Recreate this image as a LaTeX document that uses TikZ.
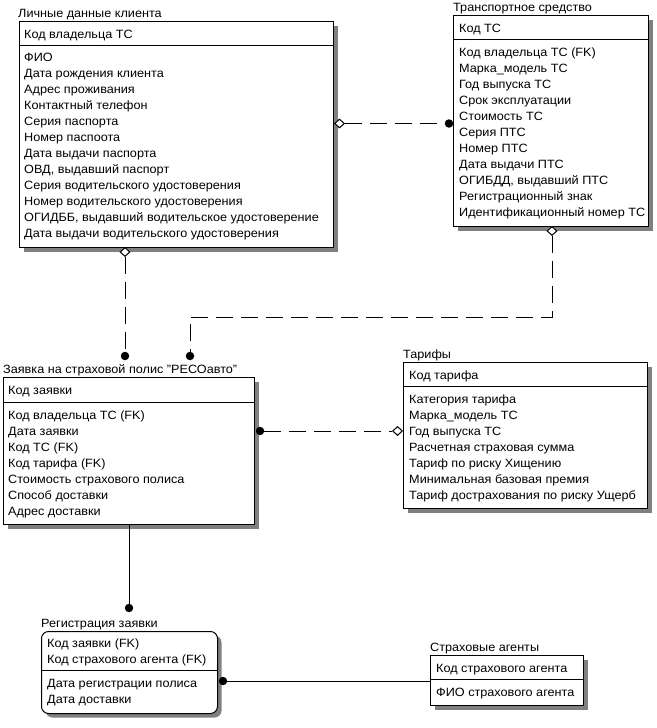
\documentclass[tikz,border=0pt]{standalone}
\usepackage{fontspec}
\setmainfont[FakeStretch=1.055]{Liberation Sans}
\usetikzlibrary{shapes.geometric,shadows}
\tikzset{
  ent/.style={draw, line width=1pt, fill=white, anchor=north west, inner sep=0pt,
    general shadow={fill=gray, shadow xshift=4pt, shadow yshift=-4pt}},
  txt/.style={anchor=base west, inner sep=0pt, font=\fontsize{12}{14}\selectfont},
  sep/.style={line width=1pt},
  rel/.style={line width=1pt},
  reld/.style={line width=1pt, dash pattern=on 17pt off 8pt},
  dot/.style={circle, fill=black, inner sep=0pt, minimum size=8.5pt},
  dia/.style={diamond, draw, line width=1pt, fill=white, inner sep=0pt, minimum width=10pt, minimum height=9pt}
}
\begin{document}
\begin{tikzpicture}[x=1pt,y=-1pt]
\useasboundingbox (0,0) rectangle (656,728);

% Entity 1
\node[ent, minimum width=314pt, minimum height=226pt] (e1) at (19,21) {};
\draw[sep] (e1.west |- 0,45) -- (e1.east |- 0,45);
\node[txt] (e1t) at (18,17.5) {Личные данные клиента};
\node[txt] (e1k) at (24,38) {Код владельца ТС};
\foreach \t [count=\i] in {ФИО, Дата рождения клиента, Адрес проживания, Контактный телефон,
  Серия паспорта, Номер паспоота, Дата выдачи паспорта, {ОВД, выдавший паспорт},
  Серия водительского удостоверения, Номер водительского удостоверения,
  {ОГИДББ, выдавший водительское удостоверение}, Дата выдачи водительского удостоверения}
  \node[txt] (e1a\i) at (24,{61.7+16*(\i-1)}) {\t};

% Entity 2
\node[ent, minimum width=195pt, minimum height=211pt] (e2) at (453,15) {};
\draw[sep] (e2.west |- 0,39) -- (e2.east |- 0,39);
\node[txt] (e2t) at (453,11.5) {Транспортное средство};
\node[txt] (e2k) at (459,32) {Код ТС};
\foreach \t [count=\i] in {Код владельца ТС (FK), Марка\_модель ТС, Год выпуска ТС,
  Срок эксплуатации, Стоимость ТС, Серия ПТС, Номер ПТС, Дата выдачи ПТС,
  {ОГИБДД, выдавший ПТС}, Регистрационный знак, Идентификационный номер ТС}
  \node[txt] (e2a\i) at (459,{56.5+16*(\i-1)}) {\t};

% Entity 3
\node[ent, minimum width=251pt, minimum height=147pt] (e3) at (3,377) {};
\draw[sep] (e3.west |- 0,402) -- (e3.east |- 0,402);
\node[txt] (e3t) at (3,373) {Заявка на страховой полис "РЕСОавто"};
\node[txt] (e3k) at (8,394) {Код заявки};
\foreach \t [count=\i] in {Код владельца ТС (FK), Дата заявки, Код ТС (FK), Код тарифа (FK),
  Стоимость страхового полиса, Способ доставки, Адрес доставки}
  \node[txt] (e3a\i) at (8,{419+16*(\i-1)}) {\t};

% Entity 4
\node[ent, minimum width=244pt, minimum height=146pt] (e4) at (403,362) {};
\draw[sep] (e4.west |- 0,386) -- (e4.east |- 0,386);
\node[txt] (e4t) at (403,358) {Тарифы};
\node[txt] (e4k) at (409,379) {Код тарифа};
\foreach \t [count=\i] in {Категория тарифа, Марка\_модель ТС, Год выпуска ТС,
  Расчетная страховая сумма, Тариф по риску Хищению, Минимальная базовая премия,
  Тариф дострахования по риску Ущерб}
  \node[txt] (e4a\i) at (409,{403+16*(\i-1)}) {\t};

% Entity 5
\node[ent, rounded corners=7pt, minimum width=176pt, minimum height=82pt] (e5) at (41,631) {};
\draw[sep] (e5.west |- 0,670) -- (e5.east |- 0,670);
\node[txt] (e5t) at (41,627) {Регистрация заявки};
\node[txt] (e5k1) at (47,647) {Код заявки (FK)};
\node[txt] (e5k2) at (47,663) {Код страхового агента (FK)};
\node[txt] (e5a1) at (47,687) {Дата регистрации полиса};
\node[txt] (e5a2) at (47,703) {Дата доставки};

% Entity 6
\node[ent, minimum width=153pt, minimum height=50pt] (e6) at (430,655) {};
\draw[sep] (e6.west |- 0,679) -- (e6.east |- 0,679);
\node[txt] (e6t) at (430,651) {Страховые агенты};
\node[txt] (e6k) at (436,672) {Код страхового агента};
\node[txt] (e6a) at (436,696) {ФИО страхового агента};

% Relationship 1: e1 -> e2
\node[dia, anchor=west] (d1) at (e1.east |- 0,123.5) {};
\node[dot] (p1) at (449,123.5) {};
\draw[reld] (d1.east) -- (p1.west);

% Relationship 2: e2 -> e3
\node[dia, anchor=north] (d2) at (552,226) {};
\node[dot] (p2) at (190,356) {};
\coordinate (c2a) at (552,317);
\coordinate (c2b) at (190,317);
\draw[reld] (d2.south) -- (c2a) -- (c2b) -- (p2.north);

% Relationship 3: e1 -> e3
\node[dia, anchor=north] (d3) at (125,247) {};
\node[dot] (p3) at (125,356) {};
\draw[reld] (d3.south) -- (p3.north);

% Relationship 4: e4 -> e3
\node[dot] (p4) at (260,431) {};
\node[dia, anchor=east] (d4) at (e4.west |- 0,431) {};
\draw[reld] (p4.east) -- (d4.west);

% Relationship 5: e3 -> e5
\node[dot] (p5) at (129,608) {};
\draw[rel] (e3.south -| p5) -- (p5.north);

% Relationship 6: e6 -> e5
\node[dot] (p6) at (223,681) {};
\draw[rel] (p6.east) -- (e6.west |- p6);
\end{tikzpicture}
\end{document}
